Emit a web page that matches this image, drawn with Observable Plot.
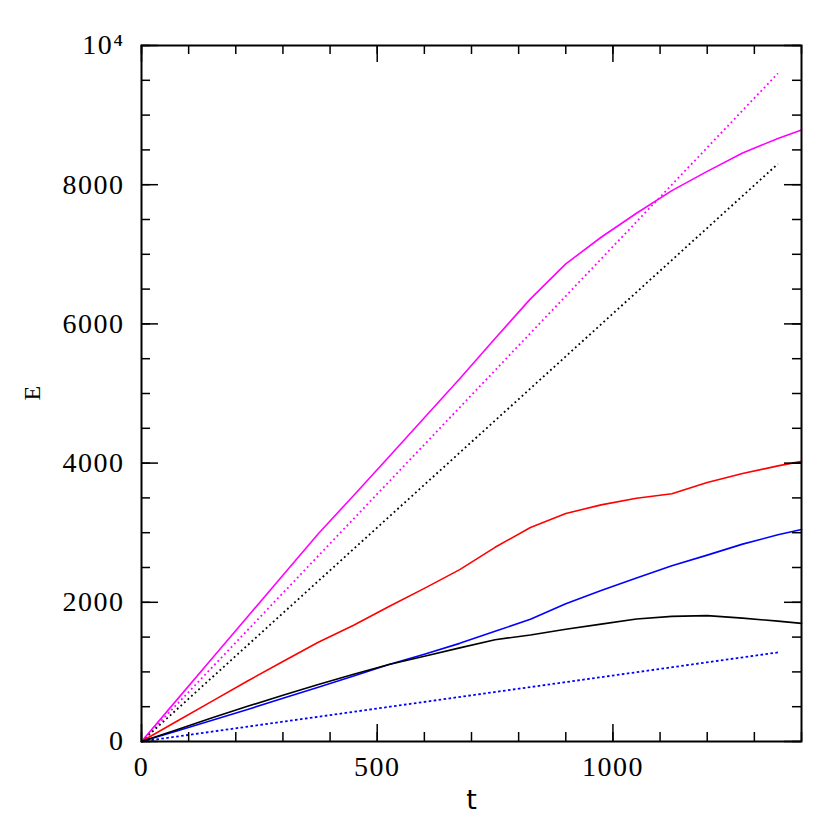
<!DOCTYPE html>
<html>
<head>
<meta charset="utf-8">
<script src="https://cdn.jsdelivr.net/npm/d3@7"></script>
<script src="https://cdn.jsdelivr.net/npm/@observablehq/plot@0.6"></script>
<style>
  html, body { margin: 0; padding: 0; background: #fff; }
  #chart svg { display: block; }
</style>
</head>
<body>
<div id="chart"></div>
<script>
// time samples for the solid curves
const t = [0, 75, 150, 225, 300, 375, 450, 525, 600, 675, 750, 825, 900, 975, 1050, 1125, 1200, 1275, 1350, 1400];
const magentaSolid = [0, 598, 1195, 1793, 2390, 2985, 3535, 4092, 4652, 5212, 5791, 6360, 6862, 7245, 7590, 7915, 8192, 8455, 8665, 8785];
const redSolid     = [0, 290, 580, 870, 1150, 1425, 1670, 1940, 2200, 2470, 2790, 3075, 3275, 3400, 3495, 3560, 3720, 3850, 3960, 4025];
const blueSolid    = [0, 150, 305, 460, 620, 780, 940, 1105, 1255, 1410, 1583, 1755, 1980, 2170, 2350, 2525, 2678, 2836, 2970, 3046];
const blackSolid   = [0, 170, 340, 505, 665, 820, 965, 1105, 1225, 1345, 1463, 1531, 1614, 1686, 1760, 1798, 1808, 1772, 1730, 1697];

// dotted reference lines
const tDot = [0, 1350];
const magentaDot = [0, 9600];
const blackDot   = [0, 8300];
const blueDot    = [0, 1280];

// ticks and tick labels
const xMajor = [0, 500, 1000];
const xMinor = d3.range(0, 1401, 100);
const yMajor = [0, 2000, 4000, 6000, 8000, 10000];
const yMinor = d3.range(0, 10001, 500);
const yTickLabels = ["0", "2000", "4000", "6000", "8000", "10⁴"];

const solid = [
  {name: "magenta", color: "#ff00ff", v: magentaSolid},
  {name: "red", color: "#ff0000", v: redSolid},
  {name: "blue", color: "#0000ff", v: blueSolid},
  {name: "black", color: "#000000", v: blackSolid}
].flatMap(s => t.map((tt, i) => ({series: s.name, color: s.color, t: tt, E: s.v[i]})));

const dottedA = [
  {name: "magentaDot", color: "#ff00ff", v: magentaDot},
  {name: "blackDot", color: "#000000", v: blackDot}
].flatMap(s => tDot.map((tt, i) => ({series: s.name, color: s.color, t: tt, E: s.v[i]})));
const dottedB = tDot.map((tt, i) => ({series: "blueDot", color: "#0000ff", t: tt, E: blueDot[i]}));

const yLabelData = yMajor.map((v, i) => ({v, label: yTickLabels[i]}));

const W = 830, H = 830;
const mL = 141, mR = 29, mT = 45, mB = 89;
const innerH = H - mT - mB;
const innerW = W - mL - mR;
const SERIF = "Liberation Serif";

const chart = Plot.plot({
  width: W, height: H,
  marginLeft: mL, marginRight: mR, marginTop: mT, marginBottom: mB,
  x: {domain: [0, 1400], axis: null},
  y: {domain: [0, 10000], axis: null},
  style: {fontFamily: SERIF, background: "#fff"},
  marks: [
    // dotted
    Plot.line(dottedA, {x: "t", y: "E", z: "series", stroke: "color", strokeWidth: 1.8, strokeDasharray: "1.8,3", strokeLinecap: "butt"}),
    Plot.line(dottedB, {x: "t", y: "E", z: "series", stroke: "color", strokeWidth: 1.8, strokeDasharray: "2.6,2.4", strokeLinecap: "butt"}),
    // solid
    Plot.line(solid, {x: "t", y: "E", z: "series", stroke: "color", strokeWidth: 1.6}),
    // ticks bottom/top
    Plot.tickX(xMinor, {x: d => d, insetTop: innerH - 9, stroke: "#000", strokeWidth: 1.5}),
    Plot.tickX(xMajor, {x: d => d, insetTop: innerH - 17, stroke: "#000", strokeWidth: 1.5}),
    Plot.tickX(xMinor, {x: d => d, insetBottom: innerH - 9, stroke: "#000", strokeWidth: 1.5}),
    Plot.tickX(xMajor, {x: d => d, insetBottom: innerH - 17, stroke: "#000", strokeWidth: 1.5}),
    // ticks left/right
    Plot.tickY(yMinor, {y: d => d, insetRight: innerW - 9, stroke: "#000", strokeWidth: 1.5}),
    Plot.tickY(yMajor, {y: d => d, insetRight: innerW - 17, stroke: "#000", strokeWidth: 1.5}),
    Plot.tickY(yMinor, {y: d => d, insetLeft: innerW - 9, stroke: "#000", strokeWidth: 1.5}),
    Plot.tickY(yMajor, {y: d => d, insetLeft: innerW - 17, stroke: "#000", strokeWidth: 1.5}),
    Plot.frame({stroke: "#000", strokeWidth: 2}),
    // tick labels
    Plot.text(xMajor, {x: d => d, frameAnchor: "bottom", dy: 25.5, text: d => String(d), fontSize: 28, fontFamily: SERIF, lineAnchor: "middle", fill: "#000"}),
    Plot.text(yLabelData, {y: "v", frameAnchor: "left", dx: -17, text: "label", fontSize: 28, fontFamily: SERIF, lineAnchor: "middle", textAnchor: "end", fill: "#000"}),
    // axis titles
    Plot.text(["t"], {frameAnchor: "bottom", dy: 59, text: d => d, fontSize: 27, fontFamily: "DejaVu Sans", lineAnchor: "middle"}),
    Plot.text(["E"], {frameAnchor: "left", dx: -109, dy: 7, rotate: -90, text: d => d, fontSize: 24, fontFamily: SERIF, lineAnchor: "middle"})
  ]
});
// widen the tick-label glyph spacing slightly to match the reference face
chart.querySelectorAll("text").forEach(el => {
  if (/^[0-9⁴]+$/.test(el.textContent)) el.setAttribute("letter-spacing", "1.5");
});
document.getElementById("chart").appendChild(chart);
</script>
</body>
</html>
